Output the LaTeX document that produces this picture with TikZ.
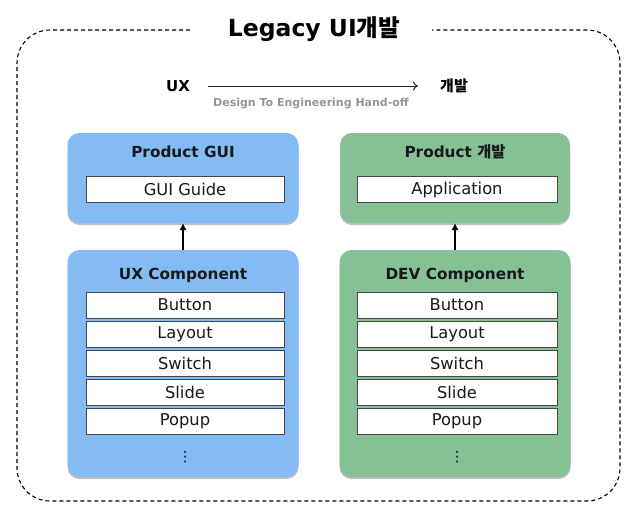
\documentclass[tikz,border=0pt]{standalone}
\usepackage{fontspec}
\setmainfont{DejaVu Sans}
\newfontfamily\kr{Noto Sans CJK KR}
\usetikzlibrary{arrows.meta,shadows}
\definecolor{bluebox}{RGB}{133,187,245}
\definecolor{greenbox}{RGB}{134,193,150}
\definecolor{itemline}{RGB}{70,70,70}
\definecolor{labelgray}{RGB}{150,150,150}
\begin{document}
\begin{tikzpicture}[x=1pt,y=-1pt,
  panel/.style={rounded corners=12pt, draw=none, inner sep=0pt,
    drop shadow={shadow xshift=0pt, shadow yshift=-2pt, opacity=0.25, fill=black}},
  bluepanel/.style={panel, fill=bluebox},
  greenpanel/.style={panel, fill=greenbox},
  paneltitle/.style={font=\fontsize{15.3}{18}\selectfont\bfseries, text=black!90, inner sep=0pt},
  item/.style={draw=itemline, line width=0.9pt, fill=white, minimum height=26pt, inner sep=0pt,
    font=\fontsize{16.3}{19}\selectfont, text=black!90},
  upar/.style={-{Latex[length=7pt,width=7.5pt]}, line width=1.6pt, black}
]
\useasboundingbox (0,0) rectangle (638,520);
% outer dashed frame
\draw[dash pattern=on 4pt off 3pt, line width=1.1pt, rounded corners=33pt]
  (190,30) -- (17,30) -- (17,501) -- (620,501) -- (620,30) -- (432,30);
\node[font=\fontsize{23.5}{28}\selectfont\bfseries, inner sep=0pt] (title) at (314,29) {Legacy UI{\kr 개발}};

% top flow
\node[font=\fontsize{15}{18}\selectfont\bfseries, inner sep=0pt] (uxl) at (178,86) {UX};
\node[font=\kr\fontsize{15}{18}\selectfont\bfseries, inner sep=0pt] (devl) at (454,86) {개발};
\draw[-{To[length=5pt,width=9pt]}, line width=1pt, black!85, shorten <=18pt, shorten >=22pt] (uxl.east) -- (devl.west)
  node[pos=0.5, below=12pt, xshift=-4pt, font=\fontsize{11}{13}\selectfont\bfseries, text=labelgray, inner sep=0pt] (hand) {Design To Engineering Hand-off};

% left column
\node[bluepanel, minimum width=231pt, minimum height=90pt] (pg) at (183,178) {};
\node[paneltitle] (pgt) at (183,152) {Product GUI};
\node[item, minimum width=198pt] (gg) at (185,189.5) {GUI Guide};

\node[bluepanel, minimum width=231pt, minimum height=227pt] (uxc) at (183,363.5) {};
\node[paneltitle] (uxt) at (183,275) {UX Component};
\node[item, minimum width=198pt] (l1) at (185,305) {Button};
\node[item, minimum width=198pt] (l2) at (185,334) {Layout};
\node[item, minimum width=198pt] (l3) at (185,363) {Switch};
\node[item, minimum width=198pt] (l4) at (185,392) {Slide};
\node[item, minimum width=198pt] (l5) at (185,421) {Popup};
\node[font=\fontsize{14}{16}\selectfont, inner sep=0pt] (ld) at (185,457) {⋮};

% right column
\node[greenpanel, minimum width=230pt, minimum height=90pt] (pd) at (455,178) {};
\node[paneltitle] (pdt) at (455,152) {Product {\kr 개발}};
\node[item, minimum width=200pt] (ap) at (457,189.5) {Application};

\node[greenpanel, minimum width=231pt, minimum height=227pt] (dev) at (455,363.5) {};
\node[paneltitle] (devt) at (455,275) {DEV Component};
\node[item, minimum width=200pt] (r1) at (457,305) {Button};
\node[item, minimum width=200pt] (r2) at (457,334) {Layout};
\node[item, minimum width=200pt] (r3) at (457,363) {Switch};
\node[item, minimum width=200pt] (r4) at (457,392) {Slide};
\node[item, minimum width=200pt] (r5) at (457,421) {Popup};
\node[font=\fontsize{14}{16}\selectfont, inner sep=0pt] (rd) at (457,457) {⋮};

% arrows
\draw[upar] (uxc.north) -- (pg.south);
\draw[upar] (dev.north) -- (pd.south);
\end{tikzpicture}
\end{document}
